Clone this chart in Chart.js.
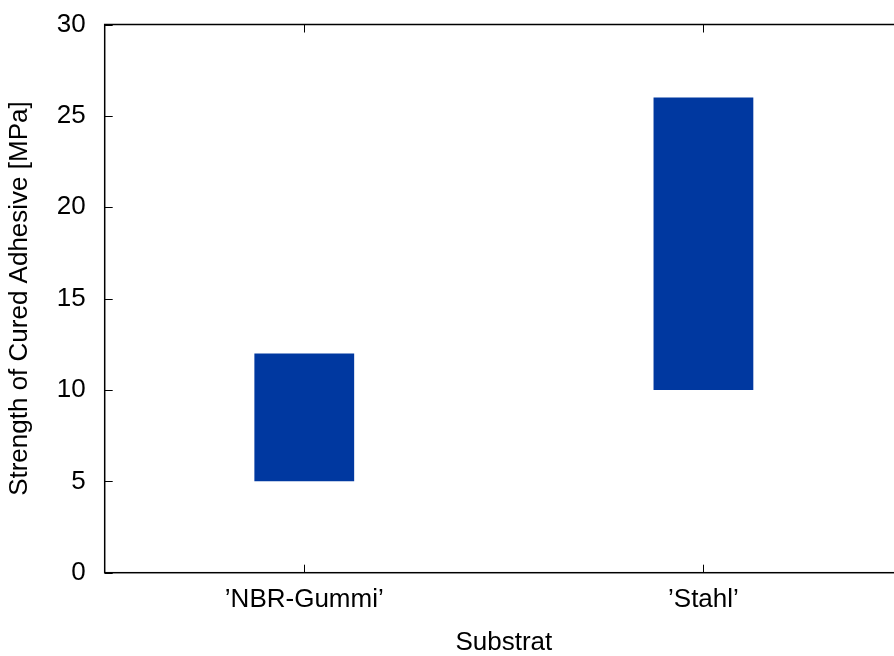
<!DOCTYPE html>
<html>
<head>
<meta charset="utf-8">
<script src="https://cdn.jsdelivr.net/npm/chart.js@4/dist/chart.umd.min.js"></script>
<style>
  html, body { margin: 0; padding: 0; background: #fff; overflow: hidden; }
  #outer { width: 894px; height: 656px; overflow: hidden; }
  #wrap { width: 904px; height: 656px; position: relative; }
</style>
</head>
<body>
<div id="outer"><div id="wrap"><canvas id="chart"></canvas></div></div>
<script>
// substrate categories and strength ranges [low, high] in MPa
const substrates = ['\u2019NBR-Gummi\u2019', '\u2019Stahl\u2019'];
const strengthLow = [5, 10];
const strengthHigh = [12, 26];
const yTicks = [0, 5, 10, 15, 20, 25, 30];

const barColor = 'rgb(0, 56, 160)';
const fontFamily = '"Liberation Sans", Arial, Helvetica, sans-serif';

// gnuplot style frame: full border with inward ticks, mirrored on top/right
const framePlugin = {
    id: 'frame',
    afterDraw(chart) {
        const { ctx, chartArea: a, scales } = chart;
        const tick = 8;
        ctx.save();
        ctx.strokeStyle = '#000';
        ctx.lineWidth = 1.5;
        ctx.strokeRect(a.left, a.top, a.right - a.left, a.bottom - a.top);
        ctx.lineWidth = 1;
        ctx.beginPath();
        yTicks.forEach((v) => {
            const y = Math.round(scales.y.getPixelForValue(v)) + 0.5;
            ctx.moveTo(a.left, y); ctx.lineTo(a.left + tick, y);
            ctx.moveTo(a.right, y); ctx.lineTo(a.right - tick, y);
        });
        substrates.forEach((_, i) => {
            const x = Math.round(scales.x.getPixelForValue(i)) + 0.5;
            ctx.moveTo(x, a.bottom); ctx.lineTo(x, a.bottom - tick);
            ctx.moveTo(x, a.top); ctx.lineTo(x, a.top + tick);
        });
        ctx.stroke();
        ctx.restore();
    }
};

const ctx = document.getElementById('chart').getContext('2d');
new Chart(ctx, {
    type: 'bar',
    data: {
        labels: substrates,
        datasets: [{
            label: 'Strength',
            data: substrates.map((_, i) => [strengthLow[i], strengthHigh[i]]),
            backgroundColor: barColor,
            borderWidth: 0,
            categoryPercentage: 1,
            barPercentage: 0.25
        }]
    },
    options: {
        responsive: true,
        maintainAspectRatio: false,
        animation: false,
        layout: { padding: { top: 24.5, right: 1, bottom: 0, left: 0 } },
        plugins: {
            legend: { display: false },
            tooltip: { enabled: false }
        },
        scales: {
            x: {
                offset: true,
                grid: { display: false, drawTicks: false },
                border: { display: false },
                ticks: {
                    color: '#000',
                    padding: 12,
                    maxRotation: 0,
                    font: { family: fontFamily, size: 26 }
                },
                title: {
                    display: true,
                    text: 'Substrat',
                    color: '#000',
                    padding: 0,
                    font: { family: fontFamily, size: 26, lineHeight: 1 }
                },
                afterFit(scale) {
                    scale.height = 83.3;
                    scale.paddingLeft = 0;
                    scale.paddingRight = 0;
                }
            },
            y: {
                min: 0,
                max: 30,
                afterBuildTicks(scale) { scale.ticks = yTicks.map((v) => ({ value: v })); },
                grid: { display: false, drawTicks: false },
                border: { display: false },
                ticks: {
                    color: '#000',
                    padding: 19,
                    font: { family: fontFamily, size: 26 }
                },
                title: {
                    display: true,
                    text: 'Strength of Cured Adhesive [MPa]',
                    color: '#000',
                    padding: { top: 4, bottom: 0 },
                    font: { family: fontFamily, size: 26 }
                },
                afterFit(scale) {
                    scale.width = 104.7;
                    scale.paddingTop = 0;
                    scale.paddingBottom = 0;
                }
            }
        }
    },
    plugins: [framePlugin]
});
</script>
</body>
</html>
